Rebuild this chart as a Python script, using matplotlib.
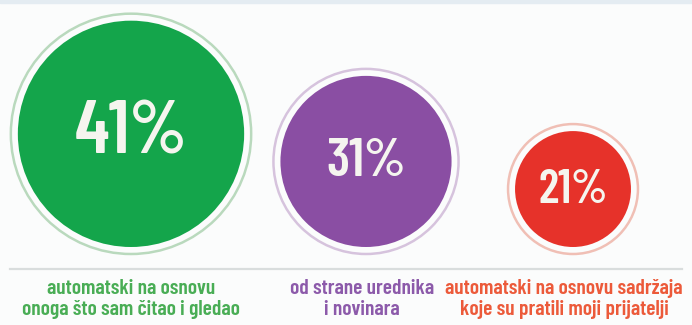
import matplotlib
matplotlib.use("Agg")
import matplotlib.pyplot as plt
from matplotlib.patches import Circle

# Survey shares: how respondents prefer their news to be selected
shares = [41, 31, 21]
value_labels = ["41%", "31%", "21%"]
categories = [
    "automatski na osnovu\nonoga što sam čitao i gledao",
    "od strane urednika\ni novinara",
    "automatski na osnovu sadržaja\nkoje su pratili moji prijatelji",
]
fill_colors = ["#14a54b", "#8a4ea3", "#e6322a"]
ring_colors = ["#b9d9bd", "#d6c3dd", "#f0bfb5"]
text_colors = ["#49ad55", "#8c5aaa", "#ec5a3a"]

# layout (pixel units of the 692x325 canvas)
W, H = 692, 325
centers_x = [131, 366, 573]
baseline_y = 247          # bottom of every filled disc
px_per_point = 2.76       # disc radius per percentage point
ring_gap = 7
label_x = [131, 362, 564]
value_font_sizes = [54, 39, 34]

plt.rcParams["font.family"] = ["Barlow Condensed", "Roboto Condensed", "DejaVu Sans"]

fig = plt.figure(figsize=(W / 100, H / 100), dpi=100)
fig.patch.set_facecolor("#fbfcfc")
ax = fig.add_axes([0, 0, 1, 1])
ax.set_xlim(0, W)
ax.set_ylim(H, 0)
ax.set_aspect("equal")
ax.axis("off")

# faint band along the top edge
ax.axhspan(0, 3, color="#e4ecf2", zorder=0)

for share, vlab, cat, fc, rc, tc, cx, lx, fs in zip(
        shares, value_labels, categories, fill_colors, ring_colors,
        text_colors, centers_x, label_x, value_font_sizes):
    r = share * px_per_point
    cy = baseline_y - r
    ax.add_patch(Circle((cx, cy), r + ring_gap, facecolor="none",
                        edgecolor=rc, linewidth=1.8, zorder=2))
    ax.add_patch(Circle((cx, cy), r, facecolor=fc, edgecolor="none", zorder=3))
    ax.text(cx, cy + 1, vlab, ha="center", va="center", color="#f5f5ef",
            fontsize=fs, fontweight="semibold", zorder=4)
    ax.text(lx, 299, cat, ha="center", va="center", color=tc,
            fontsize=15.5, fontweight="semibold", linespacing=1.08, zorder=4)

# separator line above the category labels
ax.plot([10, 682], [269, 269], color="#d9dddd", linewidth=1.6, zorder=1)

fig.savefig("out.png", dpi=100, facecolor=fig.get_facecolor())
